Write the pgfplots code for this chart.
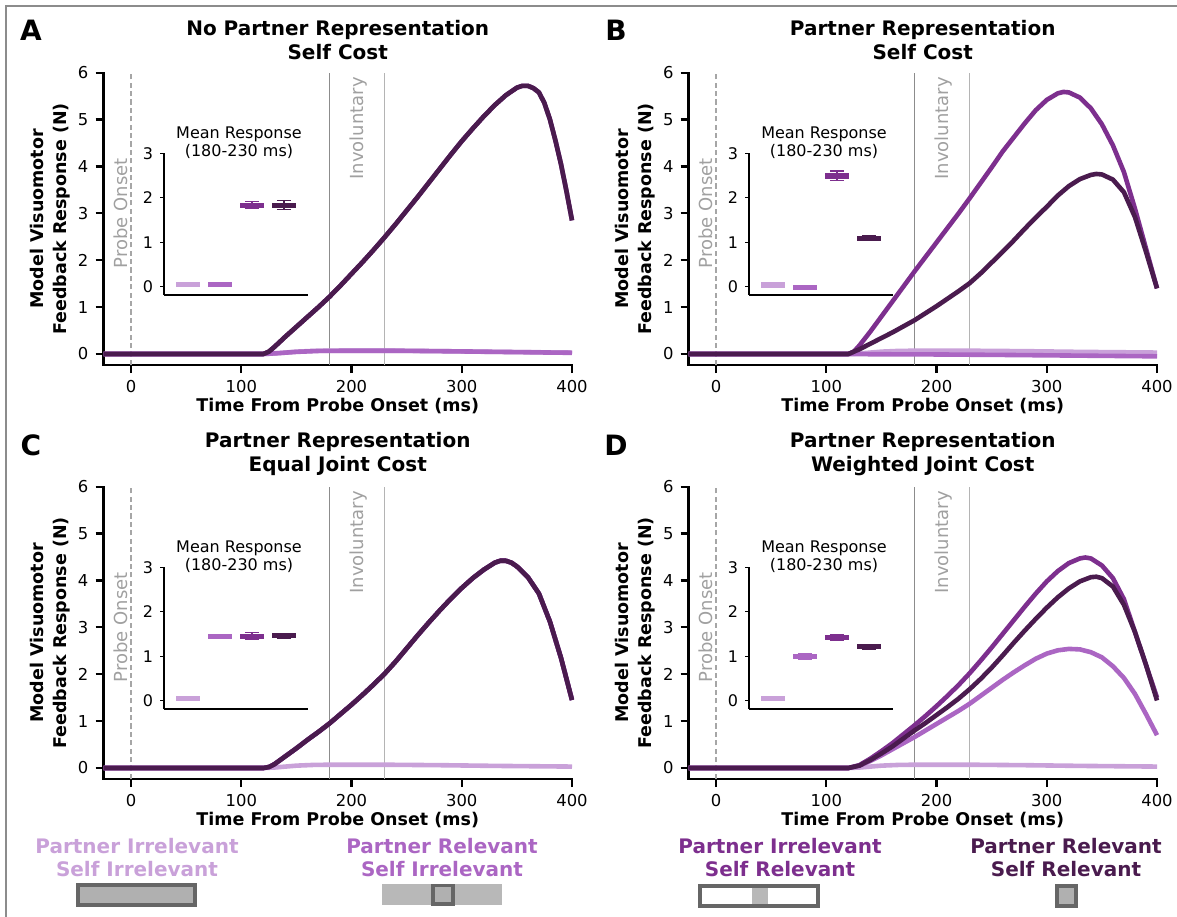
\documentclass[border=0pt]{standalone}
\usepackage{fontspec}
\setmainfont{DejaVu Sans}
\usepackage{pgfplots}
\pgfplotsset{compat=1.18}

\definecolor{cA}{HTML}{C9A1D9}
\definecolor{cB}{HTML}{AB66C3}
\definecolor{cC}{HTML}{7D2F8E}
\definecolor{cD}{HTML}{4A1B4E}
\definecolor{vgA}{HTML}{8C8C8C}
\definecolor{vgB}{HTML}{B4B4B4}
\definecolor{vgD}{HTML}{A6A6A6}
\definecolor{txtg}{HTML}{A0A0A0}
\definecolor{lgfill}{HTML}{B0B0B0}
\definecolor{lgfillb}{HTML}{B8B8B8}
\definecolor{lgedge}{HTML}{666666}
\definecolor{framec}{HTML}{8C8C8C}

\pgfplotsset{
 /pgf/number format/assume math mode=true,
 mainax/.style={
   scale only axis, width=234.25pt, height=146.15pt, anchor=south west,
   xmin=-25, xmax=400, ymin=-0.235, ymax=6,
   axis lines=left, axis line style={-, line width=1.1pt, black, line cap=rect},
   tick align=outside, major tick length=4pt,
   major tick style={line width=1.1pt, black},
   xtick={0,100,200,300,400}, ytick={0,1,2,3,4,5,6},
   tick label style={font=\fontsize{8.2}{9}\selectfont},
   clip=false, no markers,
 },
 insetax/.style={
   scale only axis, width=72pt, height=70.85pt, anchor=south west,
   xmin=-0.75, xmax=3.75, ymin=-0.187, ymax=3,
   axis lines=left, axis line style={-, line width=0.55pt, black},
   tick align=outside, major tick length=2pt,
   major tick style={line width=0.55pt, black},
   xtick=\empty, ytick={0,1,2,3},
   tick label style={font=\fontsize{8}{9}\selectfont},
   clip=false, no markers,
 },
}
\tikzset{cv/.style={line width=2.3pt, line join=round}}

\newcommand{\deco}[1]{%
 \addplot[color=vgD, line width=0.7pt, dash pattern=on 2.6pt off 1.6pt] coordinates {(0,-0.235) (0,6)};
 \addplot[color=vgA, line width=0.75pt] coordinates {(180,-0.235) (180,6)};
 \addplot[color=vgB, line width=0.75pt] coordinates {(230,-0.235) (230,6)};
 \node[rotate=90, inner sep=0pt, text=txtg, font=\fontsize{9}{10}\selectfont] at (axis cs:-9.5,3) {Probe Onset};
 \node[rotate=90, anchor=east, inner sep=0pt, text=txtg, font=\fontsize{9}{10}\selectfont] at (axis cs:206,5.91) {Involuntary};
 \node[xshift=-26.75pt, rotate=90, align=center, font=\bfseries\fontsize{8.75}{11.2}\selectfont] at (rel axis cs:0,0.5) {Model Visuomotor\\Feedback Response (N)};
 \node[yshift=-20.25pt, font=\bfseries\fontsize{8.75}{10}\selectfont] at (rel axis cs:0.5,0) {Time From Probe Onset (ms)};
 \node[yshift=16.35pt, align=center, font=\bfseries\fontsize{10}{11.7}\selectfont] at (rel axis cs:0.5,1) {#1};
}

% box: #1 centre, #2-#3 box ends, #4-#5 cap ends, #6 value, #7 low, #8 high, #9 colour
\newcommand{\bx}[9]{%
 \addplot[#9, line width=2.6pt] coordinates {(#2,#6) (#3,#6)};
 \addplot[#9, line width=0.6pt] coordinates {(#1,#7) (#1,#8)};
 \addplot[#9, line width=0.6pt] coordinates {(#4,#7) (#5,#7)};
 \addplot[#9, line width=0.6pt] coordinates {(#4,#8) (#5,#8)};
}
\newcommand{\bxa}[4]{\bx{0}{-0.375}{0.375}{-0.22}{0.22}{#1}{#2}{#3}{#4}}
\newcommand{\bxb}[4]{\bx{1}{0.625}{1.375}{0.78}{1.22}{#1}{#2}{#3}{#4}}
\newcommand{\bxc}[4]{\bx{2}{1.625}{2.375}{1.78}{2.22}{#1}{#2}{#3}{#4}}
\newcommand{\bxd}[4]{\bx{3}{2.625}{3.375}{2.78}{3.22}{#1}{#2}{#3}{#4}}
\newcommand{\insettitle}{\node[xshift=1.5pt, yshift=5.25pt, align=center, font=\fontsize{8}{9}\selectfont] at (rel axis cs:0.5,1) {Mean Response\\(180-230 ms)};}

\newcommand{\lowA}{\addplot[cA, cv] coordinates {(-25,0) (120,0) (130,0.01) (140,0.03) (150,0.05) (165,0.065) (180,0.07) (230,0.07) (280,0.06) (330,0.045) (400,0.03)};}

\begin{document}
\begin{tikzpicture}
\useasboundingbox (0pt,0pt) rectangle (588.5pt,-458pt);
\draw[framec, line width=1.4pt] (3pt,-462pt) -- (3pt,-3pt) -- (592pt,-3pt);

% panel letters
\node[font=\bfseries\fontsize{14}{16}\selectfont] at (15.5pt,-15pt) {A};
\node[font=\bfseries\fontsize{14}{16}\selectfont] at (308pt,-15pt) {B};
\node[font=\bfseries\fontsize{14}{16}\selectfont] at (15.5pt,-222.5pt) {C};
\node[font=\bfseries\fontsize{14}{16}\selectfont] at (308pt,-222.5pt) {D};

% ---------------- Panel A ----------------
\begin{axis}[mainax, at={(51.75pt,-182.5pt)}]
\deco{No Partner Representation\\Self Cost}
\lowA
\addplot[cB, cv] coordinates {(-25,0) (120,0) (135,0.02) (150,0.045) (170,0.065) (200,0.07) (250,0.068) (300,0.055) (350,0.04) (400,0.025)};
\addplot[cC, cv] coordinates {(-25,0) (120,0) (125,0.05) (130,0.15) (140,0.37) (150,0.58) (160,0.79) (170,1.0) (180,1.22) (190,1.46) (200,1.71) (210,1.96) (220,2.22) (230,2.49) (240,2.77) (250,3.06) (260,3.35) (270,3.65) (280,3.95) (290,4.25) (300,4.54) (310,4.81) (320,5.07) (330,5.31) (340,5.52) (350,5.68) (355,5.72) (360,5.72) (365,5.67) (370,5.58) (375,5.35) (380,5.0) (385,4.55) (390,4.05) (395,3.47) (400,2.85)};
\addplot[cD, cv] coordinates {(-25,0) (120,0) (125,0.05) (130,0.15) (140,0.37) (150,0.58) (160,0.79) (170,1.0) (180,1.22) (190,1.46) (200,1.71) (210,1.96) (220,2.22) (230,2.49) (240,2.77) (250,3.06) (260,3.35) (270,3.65) (280,3.95) (290,4.25) (300,4.54) (310,4.81) (320,5.07) (330,5.31) (340,5.52) (350,5.68) (355,5.72) (360,5.72) (365,5.67) (370,5.58) (375,5.35) (380,5.0) (385,4.55) (390,4.05) (395,3.47) (400,2.85)};
\end{axis}
\begin{axis}[insetax, at={(82pt,-147.5pt)}]
\insettitle
\bxa{0.05}{0.03}{0.07}{cA}
\bxb{0.05}{0.03}{0.07}{cB}
\bxc{1.83}{1.75}{1.91}{cC}
\bxd{1.83}{1.74}{1.93}{cD}
\end{axis}

% ---------------- Panel B ----------------
\begin{axis}[mainax, at={(344.25pt,-182.5pt)}]
\deco{Partner Representation\\Self Cost}
\lowA
\addplot[cB, cv] coordinates {(-25,0) (120,0) (140,-0.005) (200,-0.01) (260,-0.02) (330,-0.035) (400,-0.05)};
\addplot[cC, cv] coordinates {(-25,0) (120,0) (125,0.05) (130,0.18) (140,0.48) (150,0.8) (160,1.12) (170,1.44) (180,1.76) (190,2.07) (200,2.38) (210,2.69) (220,3.0) (230,3.32) (240,3.65) (250,3.98) (260,4.32) (270,4.62) (280,4.92) (290,5.2) (300,5.42) (310,5.56) (315,5.59) (320,5.58) (330,5.47) (340,5.24) (350,4.9) (360,4.45) (370,3.88) (380,3.1) (390,2.25) (400,1.4)};
\addplot[cD, cv] coordinates {(-25,0) (120,0) (130,0.1) (140,0.22) (150,0.34) (160,0.46) (170,0.59) (180,0.72) (190,0.87) (200,1.02) (210,1.18) (220,1.34) (230,1.51) (240,1.72) (250,1.95) (260,2.18) (270,2.42) (280,2.67) (290,2.91) (300,3.14) (310,3.38) (320,3.58) (330,3.73) (340,3.82) (345,3.84) (350,3.83) (360,3.72) (370,3.45) (380,2.92) (390,2.18) (400,1.4)};
\end{axis}
\begin{axis}[insetax, at={(374.5pt,-147.5pt)}]
\insettitle
\bxa{0.04}{0.02}{0.06}{cA}
\bxb{-0.01}{-0.03}{0.01}{cB}
\bxc{2.49}{2.39}{2.6}{cC}
\bxd{1.09}{1.03}{1.14}{cD}
\end{axis}

% ---------------- Panel C ----------------
\begin{axis}[mainax, at={(51.75pt,-389.5pt)}]
\deco{Partner Representation\\Equal Joint Cost}
\lowA
\addplot[cB, cv] coordinates {(-25,0) (120,0) (125,0.02) (130,0.08) (140,0.25) (150,0.42) (160,0.6) (170,0.77) (180,0.95) (190,1.15) (200,1.35) (210,1.56) (220,1.78) (230,2.01) (240,2.27) (250,2.55) (260,2.83) (270,3.1) (280,3.36) (290,3.61) (300,3.84) (310,4.05) (320,4.23) (330,4.38) (335,4.42) (340,4.42) (345,4.38) (350,4.3) (360,4.07) (370,3.72) (380,3.12) (390,2.35) (400,1.45)};
\addplot[cC, cv] coordinates {(-25,0) (120,0) (125,0.02) (130,0.08) (140,0.25) (150,0.42) (160,0.6) (170,0.77) (180,0.95) (190,1.15) (200,1.35) (210,1.56) (220,1.78) (230,2.01) (240,2.27) (250,2.55) (260,2.83) (270,3.1) (280,3.36) (290,3.61) (300,3.84) (310,4.05) (320,4.23) (330,4.38) (335,4.42) (340,4.42) (345,4.38) (350,4.3) (360,4.07) (370,3.72) (380,3.12) (390,2.35) (400,1.45)};
\addplot[cD, cv] coordinates {(-25,0) (120,0) (125,0.02) (130,0.08) (140,0.25) (150,0.42) (160,0.6) (170,0.77) (180,0.95) (190,1.15) (200,1.35) (210,1.56) (220,1.78) (230,2.01) (240,2.27) (250,2.55) (260,2.83) (270,3.1) (280,3.36) (290,3.61) (300,3.84) (310,4.05) (320,4.23) (330,4.38) (335,4.42) (340,4.42) (345,4.38) (350,4.3) (360,4.07) (370,3.72) (380,3.12) (390,2.35) (400,1.45)};
\end{axis}
\begin{axis}[insetax, at={(82pt,-354.5pt)}]
\insettitle
\bxa{0.05}{0.03}{0.07}{cA}
\bxb{1.45}{1.41}{1.49}{cB}
\bxc{1.45}{1.37}{1.53}{cC}
\bxd{1.46}{1.39}{1.52}{cD}
\end{axis}

% ---------------- Panel D ----------------
\begin{axis}[mainax, at={(344.25pt,-389.5pt)}]
\deco{Partner Representation\\Weighted Joint Cost}
\lowA
\addplot[cB, cv] coordinates {(-25,0) (120,0) (130,0.05) (140,0.15) (150,0.27) (160,0.4) (170,0.53) (180,0.66) (190,0.8) (200,0.94) (210,1.08) (220,1.22) (230,1.37) (240,1.54) (250,1.71) (260,1.88) (270,2.04) (280,2.19) (290,2.33) (300,2.44) (310,2.51) (320,2.54) (330,2.53) (340,2.47) (350,2.36) (360,2.17) (370,1.92) (380,1.58) (390,1.15) (400,0.7)};
\addplot[cC, cv] coordinates {(-25,0) (120,0) (130,0.06) (140,0.2) (150,0.36) (160,0.53) (170,0.72) (180,0.91) (190,1.11) (200,1.32) (210,1.54) (220,1.77) (230,2.02) (240,2.29) (250,2.57) (260,2.86) (270,3.15) (280,3.44) (290,3.72) (300,3.98) (310,4.2) (320,4.37) (330,4.47) (335,4.49) (340,4.47) (350,4.32) (360,4.05) (370,3.6) (380,2.9) (390,2.2) (400,1.5)};
\addplot[cD, cv] coordinates {(-25,0) (120,0) (130,0.05) (140,0.17) (150,0.31) (160,0.46) (170,0.63) (180,0.8) (190,0.96) (200,1.13) (210,1.3) (220,1.48) (230,1.68) (240,1.9) (250,2.14) (260,2.4) (270,2.67) (280,2.93) (290,3.18) (300,3.42) (310,3.64) (320,3.83) (330,3.98) (340,4.07) (345,4.08) (350,4.05) (360,3.87) (370,3.48) (380,2.9) (390,2.2) (400,1.44)};
\end{axis}
\begin{axis}[insetax, at={(374.5pt,-354.5pt)}]
\insettitle
\bxa{0.05}{0.03}{0.07}{cA}
\bxb{1.0}{0.94}{1.05}{cB}
\bxc{1.42}{1.36}{1.48}{cC}
\bxd{1.21}{1.15}{1.27}{cD}
\end{axis}

% ---------------- Legend ----------------
\node[align=center, text=cA, font=\bfseries\fontsize{10}{11.3}\selectfont] at (68.5pt,-428.75pt) {Partner Irrelevant\\Self Irrelevant};
\node[align=center, text=cB, font=\bfseries\fontsize{10}{11.3}\selectfont] at (221pt,-428.75pt) {Partner Relevant\\Self Irrelevant};
\node[align=center, text=cC, font=\bfseries\fontsize{10}{11.3}\selectfont] at (390pt,-428.75pt) {Partner Irrelevant\\Self Relevant};
\node[align=center, text=cD, font=\bfseries\fontsize{10}{11.3}\selectfont] at (533pt,-428.75pt) {Partner Relevant\\Self Relevant};

\filldraw[fill=lgfill, draw=lgedge, line width=1.6pt] (39pt,-442.5pt) rectangle (97.5pt,-452.5pt);
\fill[lgfillb] (191pt,-442pt) rectangle (251pt,-452.5pt);
\filldraw[fill=lgfill, draw=lgedge, line width=1.6pt] (216.5pt,-442.8pt) rectangle (226.5pt,-452pt);
\fill[lgfillb] (376pt,-443pt) rectangle (384pt,-453pt);
\draw[lgedge, line width=1.6pt] (350pt,-443pt) rectangle (409pt,-453pt);
\filldraw[fill=lgfill, draw=lgedge, line width=1.6pt] (528.5pt,-443pt) rectangle (538pt,-453pt);
\end{tikzpicture}
\end{document}
